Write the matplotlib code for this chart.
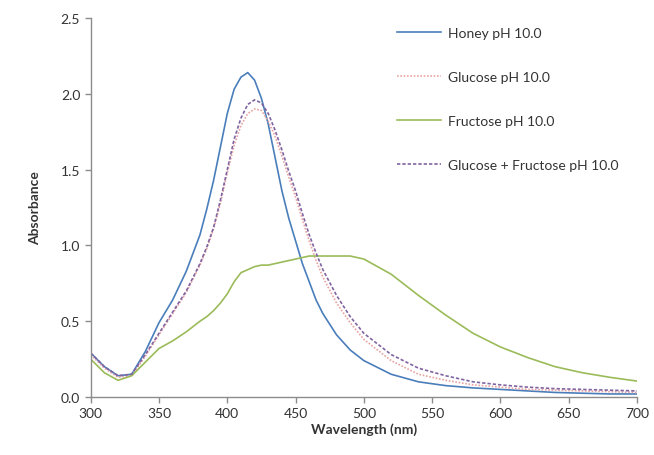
import matplotlib
matplotlib.use('Agg')
import matplotlib.pyplot as plt

#-----------------------------------------
#--- Data
#-----------------------------------------
wavelength = [300, 310, 320, 330, 340, 350, 360, 370, 380, 385, 390, 395, 400,
              405, 410, 415, 420, 425, 430, 435, 440, 445, 450, 455, 460, 465,
              470, 480, 490, 500, 520, 540, 560, 580, 600, 620, 640, 660, 680, 700]

honey = [0.29, 0.20, 0.14, 0.15, 0.30, 0.49, 0.64, 0.83, 1.07, 1.24, 1.43, 1.65, 1.87,
         2.03, 2.11, 2.14, 2.09, 1.97, 1.80, 1.58, 1.36, 1.18, 1.03, 0.88, 0.76, 0.64,
         0.55, 0.41, 0.31, 0.24, 0.15, 0.10, 0.075, 0.06, 0.05, 0.04, 0.03, 0.025, 0.02, 0.02]

glucose = [0.28, 0.19, 0.13, 0.14, 0.27, 0.41, 0.55, 0.69, 0.87, 0.98, 1.11, 1.28, 1.48,
           1.66, 1.79, 1.87, 1.90, 1.89, 1.82, 1.72, 1.59, 1.45, 1.32, 1.17, 1.03, 0.90,
           0.79, 0.62, 0.49, 0.38, 0.24, 0.15, 0.11, 0.08, 0.065, 0.05, 0.045, 0.04, 0.035, 0.03]

fructose = [0.25, 0.16, 0.11, 0.14, 0.23, 0.32, 0.37, 0.43, 0.50, 0.53, 0.57, 0.62, 0.68,
            0.76, 0.82, 0.84, 0.86, 0.87, 0.87, 0.88, 0.89, 0.90, 0.91, 0.92, 0.93, 0.93,
            0.93, 0.93, 0.93, 0.91, 0.81, 0.67, 0.54, 0.42, 0.33, 0.26, 0.20, 0.16, 0.13, 0.105]

gluc_fruc = [0.29, 0.20, 0.14, 0.15, 0.28, 0.42, 0.56, 0.70, 0.88, 0.99, 1.12, 1.30, 1.50,
             1.70, 1.84, 1.93, 1.96, 1.94, 1.87, 1.76, 1.63, 1.49, 1.36, 1.21, 1.07, 0.95,
             0.84, 0.67, 0.53, 0.42, 0.28, 0.19, 0.14, 0.10, 0.08, 0.065, 0.055, 0.05, 0.045, 0.04]

labels = ['Honey pH 10.0', 'Glucose pH 10.0', 'Fructose pH 10.0',
          'Glucose + Fructose pH 10.0']

#-----------------------------------------
#--- Plot
#-----------------------------------------
plt.rcParams['font.family'] = ['Lato', 'DejaVu Sans']

fig = plt.figure(figsize=(6.54, 4.56), dpi=100)
ax = fig.add_axes([0.1387, 0.1272, 0.8353, 0.8311])

ax.plot(wavelength, honey, color='#4A7EBB', lw=1.2, label=labels[0])
ax.plot(wavelength, glucose, color='#E6A3A1', lw=1.2, ls=(0, (1, 1)), label=labels[1])
ax.plot(wavelength, fructose, color='#9BBB59', lw=1.2, label=labels[2])
ax.plot(wavelength, gluc_fruc, color='#8064A2', lw=1.2, ls=(0, (2, 1.2)), label=labels[3])

ax.set_xlim(300, 700)
ax.set_ylim(0, 2.5)
ax.set_xticks(range(300, 701, 50))
ax.set_yticks([0, 0.5, 1.0, 1.5, 2.0, 2.5])
ax.set_yticklabels(['0.0', '0.5', '1.0', '1.5', '2.0', '2.5'])

for s in ['top', 'right']:
    ax.spines[s].set_visible(False)
for s in ['left', 'bottom']:
    ax.spines[s].set_color('#8C8C8C')
    ax.spines[s].set_linewidth(1.0)
ax.tick_params(direction='out', length=4, width=1, color='#8C8C8C',
               labelsize=10, labelcolor='#333333')

ax.set_xlabel('Wavelength (nm)', fontsize=10, fontweight='bold', color='#333333', labelpad=2)
ax.set_ylabel('Absorbance', fontsize=10, fontweight='bold', color='#333333', labelpad=14)

fig.legend(loc='upper left', bbox_to_anchor=(397/654, 0.938), frameon=False,
           fontsize=10, handlelength=3.2, handletextpad=0.45, labelspacing=2.3,
           borderpad=0, borderaxespad=0, labelcolor='#333333')

fig.savefig('out.png', dpi=100)
